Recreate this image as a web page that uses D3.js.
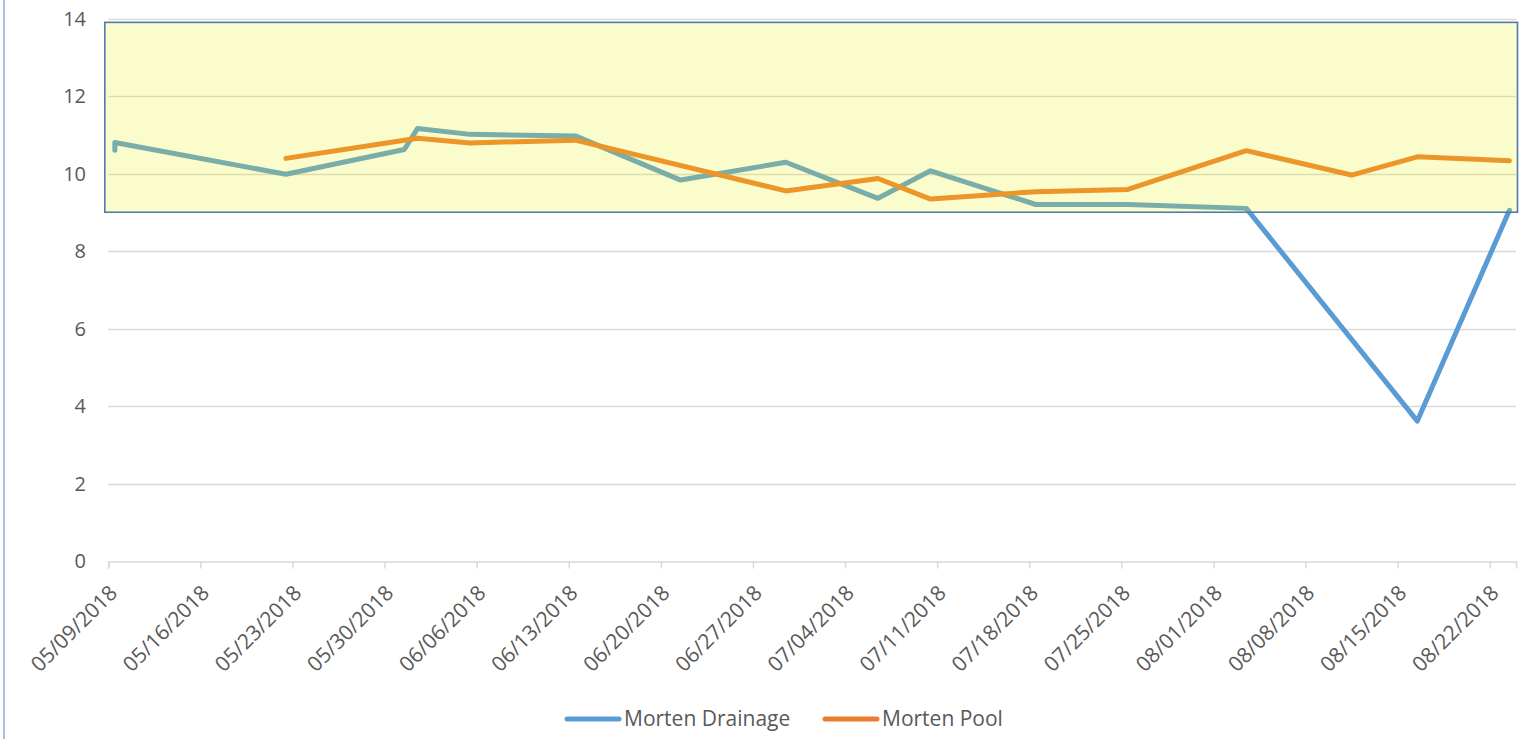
<!DOCTYPE html>
<html>
<head>
<meta charset="utf-8">
<script src="https://cdn.jsdelivr.net/npm/d3@7"></script>
<style>
  body { margin: 0; background: #fff; }
  svg { display: block; font-family: "Open Sans", "Liberation Sans", sans-serif; }
</style>
</head>
<body>
<div id="chart"></div>
<script>
// data
const drainageDates = ["05/09/2018", "05/09/2018", "05/22/2018", "05/31/2018", "06/01/2018", "06/05/2018",
  "06/13/2018", "06/21/2018", "06/29/2018", "07/06/2018", "07/10/2018", "07/18/2018", "07/25/2018",
  "08/03/2018", "08/16/2018", "08/23/2018"];
const drainageValues = [10.6, 10.8, 9.98, 10.62, 11.16, 11.01, 10.97, 9.83, 10.29, 9.36, 10.07, 9.2, 9.2,
  9.1, 3.61, 9.05];

const poolDates = ["05/22/2018", "06/01/2018", "06/05/2018", "06/13/2018", "06/29/2018", "07/06/2018",
  "07/10/2018", "07/18/2018", "07/25/2018", "08/03/2018", "08/11/2018", "08/16/2018", "08/23/2018"];
const poolValues = [10.39, 10.91, 10.79, 10.86, 9.55, 9.87, 9.34, 9.53, 9.59, 10.59, 9.96, 10.43, 10.33];

const tickDates = ["05/09/2018", "05/16/2018", "05/23/2018", "05/30/2018", "06/06/2018", "06/13/2018",
  "06/20/2018", "06/27/2018", "07/04/2018", "07/11/2018", "07/18/2018", "07/25/2018", "08/01/2018",
  "08/08/2018", "08/15/2018", "08/22/2018"];
const yTicks = [0, 2, 4, 6, 8, 10, 12, 14];

const seriesNames = ["Morten Drainage", "Morten Pool"];
const seriesColors = ["#5B9BD5", "#ED7D31"];

// highlighted band
const bandLow = 9;
const bandHigh = 13.9;

const svgWidth = 1522;
const svgHeight = 739;
const margin = { top: 18.5, right: 6, bottom: 178, left: 108.3 };

const parse = d3.timeParse("%m/%d/%Y");

const svg = d3.select("#chart").append("svg")
  .attr("width", svgWidth)
  .attr("height", svgHeight);

// selection border at the left
svg.append("line")
  .attr("x1", 4).attr("x2", 4)
  .attr("y1", 0).attr("y2", svgHeight)
  .attr("stroke", "#9DC3E6")
  .attr("stroke-width", 2);

const xScale = d3.scaleTime()
  .domain([parse("05/09/2018"), parse("08/24/2018")])
  .range([margin.left, svgWidth - margin.right]);

const yScale = d3.scaleLinear()
  .domain([0, 14])
  .range([svgHeight - margin.bottom, margin.top]);

// points sit in the middle of their day
const xPos = (s) => xScale(d3.timeHour.offset(parse(s), 12));

// gridlines
svg.append("g")
  .selectAll("line")
  .data(yTicks.filter(d => d > 0))
  .enter()
  .append("line")
  .attr("x1", margin.left)
  .attr("x2", svgWidth - margin.right)
  .attr("y1", d => Math.round(yScale(d)) + 0.5)
  .attr("y2", d => Math.round(yScale(d)) + 0.5)
  .attr("stroke", "#D9D9D9")
  .attr("stroke-width", 1.3);

// y labels
svg.append("g")
  .selectAll("text")
  .data(yTicks)
  .enter()
  .append("text")
  .attr("x", 86)
  .attr("y", d => yScale(d))
  .attr("dy", "0.35em")
  .attr("text-anchor", "end")
  .attr("fill", "#595959")
  .style("font-size", "20px")
  .text(d => d);

// x axis
const xAxis = d3.axisBottom(xScale)
  .tickValues(tickDates.map(parse))
  .tickSize(7)
  .tickFormat("");

const axisG = svg.append("g")
  .attr("transform", "translate(0," + (Math.round(yScale(0)) + 0.5) + ")")
  .call(xAxis);
axisG.select(".domain").attr("stroke", "#D9D9D9").attr("stroke-width", 1.5);
axisG.selectAll(".tick line").attr("stroke", "#D9D9D9").attr("stroke-width", 1.5);

svg.append("g")
  .selectAll("text")
  .data(tickDates)
  .enter()
  .append("text")
  .attr("transform", d => "translate(" + (xScale(parse(d)) + 5) + "," + (yScale(0) + 28) + ") rotate(-45)")
  .attr("text-anchor", "end")
  .attr("dy", "0.35em")
  .attr("fill", "#595959")
  .style("font-size", "21px")
  .text(d => d);

// lines
const line = d3.line()
  .x(d => xPos(d[0]))
  .y(d => yScale(d[1]));

const series = [
  d3.zip(drainageDates, drainageValues),
  d3.zip(poolDates, poolValues)
];

svg.append("g")
  .selectAll("path")
  .data(series)
  .enter()
  .append("path")
  .attr("d", line)
  .attr("fill", "none")
  .attr("stroke", (d, i) => seriesColors[i])
  .attr("stroke-width", 5)
  .attr("stroke-linejoin", "round")
  .attr("stroke-linecap", "round");

// translucent yellow box over the lines
svg.append("rect")
  .attr("x", xScale.range()[0] - 3.5)
  .attr("y", yScale(bandHigh))
  .attr("width", xScale.range()[1] - xScale.range()[0] + 5)
  .attr("height", yScale(bandLow) - yScale(bandHigh))
  .attr("fill", "rgb(232,240,10)")
  .attr("fill-opacity", 0.21)
  .attr("stroke", "#4F7BAF")
  .attr("stroke-width", 1.6);

// legend
const legend = svg.append("g")
  .attr("transform", "translate(565,719)");

const legendX = [0, 258];
const items = legend.selectAll("g")
  .data(seriesNames)
  .enter()
  .append("g")
  .attr("transform", (d, i) => "translate(" + legendX[i] + ",0)");

items.append("line")
  .attr("x1", 2).attr("x2", 54)
  .attr("y1", 0).attr("y2", 0)
  .attr("stroke", (d, i) => seriesColors[i])
  .attr("stroke-width", 5)
  .attr("stroke-linecap", "round");

items.append("text")
  .attr("x", 59)
  .attr("y", 0)
  .attr("dy", "0.35em")
  .attr("fill", "#595959")
  .style("font-size", "21px")
  .text(d => d);
</script>
</body>
</html>
